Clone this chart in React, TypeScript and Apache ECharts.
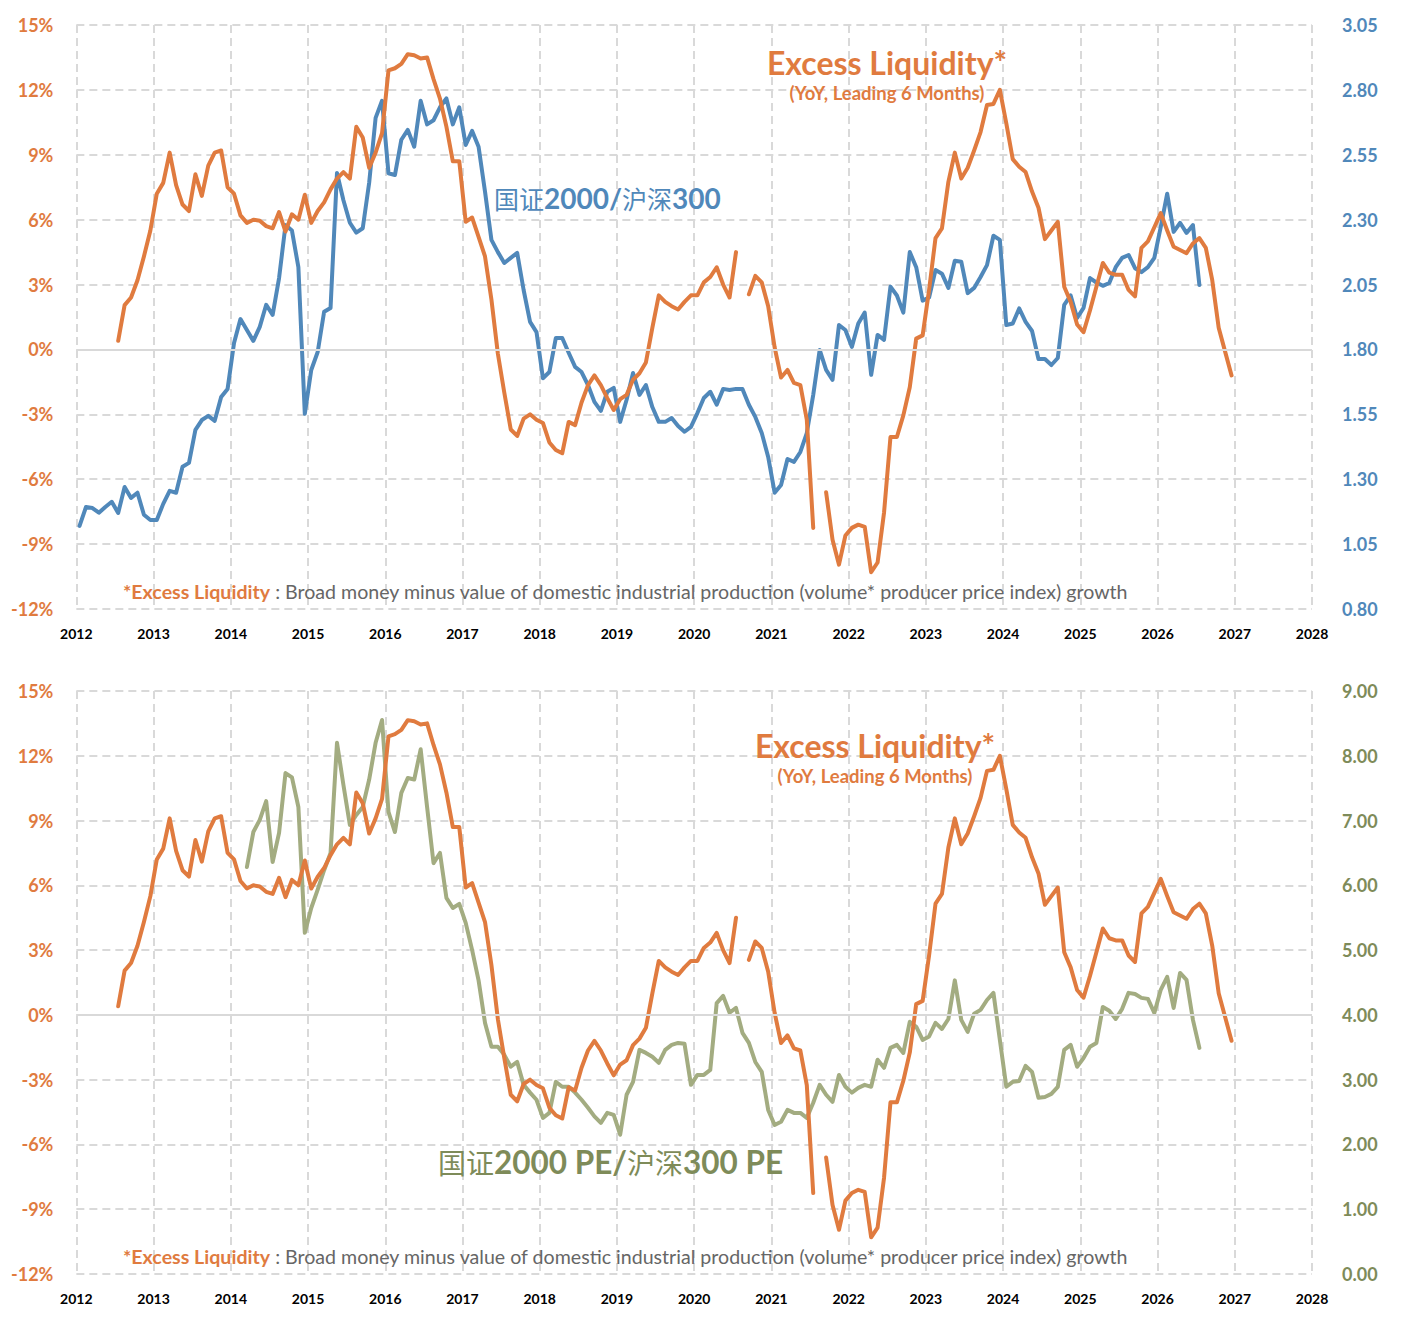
import React, { useEffect, useRef } from "react";
import * as echarts from "echarts";

// Monthly data, month index 0 = Jan 2012
const BASE_YEAR = 2012;
const yearTicks = ["2012","2013","2014","2015","2016","2017","2018","2019","2020","2021","2022","2023","2024","2025","2026","2027","2028"];

// Excess Liquidity (YoY %, leading 6 months), starts Jul 2012
const liquidityStart = 6;
const liquidity: (number | null)[] = [
  0.4, 2.05, 2.4, 3.2, 4.3, 5.5, 7.2, 7.7, 9.1, 7.6,
  6.7, 6.4, 8.1, 7.1, 8.5, 9.1, 9.2, 7.5, 7.2, 6.2,
  5.85, 6.0, 5.95, 5.7, 5.6, 6.35, 5.45, 6.25, 6.0, 7.15,
  5.85, 6.4, 6.8, 7.4, 7.9, 8.2, 7.9, 10.3, 9.8, 8.4,
  9.1, 10.0, 12.9, 13.0, 13.2, 13.65, 13.6, 13.45, 13.5, 12.5,
  11.6, 10.3, 8.7, 8.7, 5.9, 6.1, 5.2, 4.3, 2.3, -0.2,
  -2.0, -3.7, -4.0, -3.2, -3.0, -3.25, -3.4, -4.3, -4.65, -4.8,
  -3.35, -3.5, -2.45, -1.65, -1.2, -1.65, -2.25, -2.8, -2.3, -2.1,
  -1.4, -1.1, -0.6, 1.0, 2.5, 2.2, 2.0, 1.85, 2.2, 2.5,
  2.5, 3.1, 3.35, 3.8, 3.0, 2.4, 4.5, null, 2.55, 3.4,
  3.1, 2.0, 0.1, -1.3, -0.95, -1.55, -1.65, -3.25, -8.25, null,
  -6.6, -8.8, -9.95, -8.6, -8.25, -8.1, -8.2, -10.3, -9.85, -7.55,
  -4.05, -4.05, -3.05, -1.75, 0.5, 0.65, 2.75, 5.15, 5.6, 7.75,
  9.1, 7.9, 8.4, 9.2, 10.05, 11.3, 11.35, 12.0, 10.45, 8.8,
  8.45, 8.2, 7.3, 6.55, 5.1, 5.5, 5.9, 2.9, 2.2, 1.15,
  0.8, 1.8, 2.9, 4.0, 3.55, 3.45, 3.45, 2.75, 2.45, 4.7,
  5.0, 5.65, 6.3, 5.5, 4.75, 4.6, 4.45, 4.9, 5.15, 4.7,
  3.2, 1.0, -0.1, -1.2,
];

// 国证2000 / 沪深300 price ratio, starts Jan 2012
const ratioStart = 0;
const priceRatio: number[] = [
  1.12, 1.193, 1.189, 1.171, 1.193, 1.213, 1.17, 1.27, 1.228, 1.248,
  1.163, 1.143, 1.143, 1.205, 1.255, 1.248, 1.348, 1.363, 1.49, 1.528,
  1.544, 1.525, 1.617, 1.648, 1.825, 1.917, 1.875, 1.833, 1.887, 1.972,
  1.933, 2.075, 2.279, 2.258, 2.117, 1.552, 1.721, 1.79, 1.945, 1.96,
  2.48, 2.375, 2.288, 2.25, 2.267, 2.442, 2.692, 2.758, 2.479, 2.472,
  2.608, 2.646, 2.581, 2.758, 2.667, 2.683, 2.733, 2.767, 2.667, 2.733,
  2.588, 2.642, 2.581, 2.408, 2.222, 2.175, 2.133, 2.153, 2.172, 2.029,
  1.906, 1.867, 1.689, 1.713, 1.844, 1.844, 1.787, 1.733, 1.713, 1.663,
  1.598, 1.563, 1.637, 1.652, 1.521, 1.606, 1.709, 1.625, 1.663, 1.578,
  1.521, 1.521, 1.536, 1.505, 1.483, 1.502, 1.555, 1.613, 1.637, 1.587,
  1.648, 1.644, 1.648, 1.648, 1.587, 1.54, 1.478, 1.386, 1.248, 1.278,
  1.378, 1.367, 1.405, 1.478, 1.625, 1.798, 1.721, 1.683, 1.894, 1.875,
  1.81, 1.9, 1.942, 1.702, 1.856, 1.837, 2.042, 2.008, 1.942, 2.175,
  2.117, 1.988, 2.0, 2.106, 2.092, 2.037, 2.142, 2.138, 2.017, 2.037,
  2.079, 2.125, 2.238, 2.222, 1.894, 1.9, 1.958, 1.906, 1.871, 1.763,
  1.763, 1.74, 1.767, 1.972, 2.008, 1.921, 1.96, 2.075, 2.058, 2.045,
  2.056, 2.117, 2.153, 2.164, 2.113, 2.098, 2.117, 2.153, 2.272, 2.4,
  2.253, 2.288, 2.249, 2.279, 2.048,
];

// 国证2000 PE / 沪深300 PE, starts Mar 2014
const peStart = 26;
const peRatio: number[] = [
  6.283, 6.823, 7.01, 7.3, 6.36, 6.81, 7.733, 7.667, 7.21, 5.267,
  5.65, 5.933, 6.233, 6.5, 8.2, 7.55, 6.933, 7.087, 7.21, 7.633,
  8.2, 8.553, 7.133, 6.823, 7.427, 7.657, 7.633, 8.1, 7.21, 6.343,
  6.5, 5.807, 5.65, 5.713, 5.42, 5.0, 4.533, 3.877, 3.507, 3.507,
  3.383, 3.2, 3.273, 2.92, 2.8, 2.69, 2.41, 2.487, 2.967, 2.89,
  2.89, 2.8, 2.69, 2.567, 2.433, 2.333, 2.487, 2.457, 2.15, 2.767,
  2.967, 3.46, 3.413, 3.353, 3.26, 3.46, 3.537, 3.567, 3.553, 2.92,
  3.073, 3.073, 3.15, 4.183, 4.293, 4.033, 4.107, 3.723, 3.567, 3.273,
  3.12, 2.533, 2.3, 2.35, 2.533, 2.487, 2.487, 2.41, 2.643, 2.92,
  2.767, 2.657, 3.073, 2.89, 2.8, 2.873, 2.92, 2.89, 3.307, 3.183,
  3.49, 3.537, 3.413, 3.893, 3.817, 3.613, 3.667, 3.877, 3.783, 3.937,
  4.533, 3.923, 3.737, 4.017, 4.077, 4.23, 4.34, 3.613, 2.89, 2.967,
  2.98, 3.213, 3.12, 2.72, 2.733, 2.78, 2.89, 3.46, 3.537, 3.2,
  3.333, 3.507, 3.567, 4.123, 4.063, 3.937, 4.093, 4.34, 4.323, 4.263,
  4.247, 4.03, 4.387, 4.587, 4.107, 4.647, 4.54, 3.923, 3.49,
];

const leftTicks = ["-12%", "-9%", "-6%", "-3%", "0%", "3%", "6%", "9%", "12%", "15%"];

const ORANGE = "#E07B3F";
const BLUE = "#5088BA";
const GREEN_LINE = "#A3AC81";
const GREEN_TEXT = "#7E8B59";
const GRIDC = "#D9D9D9";
const FONT = "Lato, 'Noto Sans', sans-serif";

function toPairs(start: number, vals: (number | null)[]) {
  return vals.map((v, i) => [BASE_YEAR + (start + i + 0.5) / 12, v]);
}

export default function App() {
  const ref = useRef<HTMLDivElement>(null);
  useEffect(() => {
    if (!ref.current) return;
    const chart = echarts.init(ref.current, undefined, { renderer: "svg" });
    const dash = [8, 5];
    const xAxisBase = (gridIndex: number) => ({
      type: "value",
      gridIndex,
      min: 2012,
      max: 2028,
      interval: 1,
      axisLine: { show: false },
      axisTick: { show: false },
      axisLabel: {
        margin: 17,
        color: "#000",
        fontFamily: FONT,
        fontWeight: "bold",
        fontSize: 14,
        formatter: (v: number) => yearTicks[Math.round(v) - 2012] ?? "",
      },
      splitLine: { show: true, lineStyle: { color: GRIDC, width: 2, type: dash } },
    });
    const leftAxis = (gridIndex: number) => ({
      type: "value",
      gridIndex,
      position: "left",
      min: -12,
      max: 15,
      interval: 3,
      axisLine: { show: false },
      axisTick: { show: false },
      axisLabel: {
        margin: 23,
        color: ORANGE,
        fontFamily: FONT,
        fontWeight: "bold",
        fontSize: 18,
        formatter: (v: number) => leftTicks[Math.round((v + 12) / 3)] ?? "",
      },
      splitLine: { show: true, lineStyle: { color: GRIDC, width: 2, type: dash } },
    });
    const zeroLine = (xi: number, yi: number) => ({
      type: "line",
      xAxisIndex: xi,
      yAxisIndex: yi,
      data: [],
      z: 1,
      silent: true,
      markLine: {
        silent: true,
        symbol: "none",
        label: { show: false },
        lineStyle: { color: GRIDC, width: 2, type: "solid" },
        data: [{ yAxis: 0 }],
      },
    });
    const lineSeries = (xi: number, yi: number, data: any[], color: string) => ({
      type: "line",
      xAxisIndex: xi,
      yAxisIndex: yi,
      data,
      showSymbol: false,
      symbol: "none",
      connectNulls: false,
      z: 3,
      lineStyle: { color, width: 4, join: "round", cap: "round" },
    });
    const liq = toPairs(liquidityStart, liquidity);
    const footRich = {
      o: { fill: ORANGE, fontFamily: FONT, fontWeight: "bold", fontSize: 19.6 },
      g: { fill: "#666666", fontFamily: FONT, fontSize: 19.6 },
    };
    const footText =
      "{o|*Excess Liquidity}{g| : Broad money minus value of domestic industrial production (volume* producer price index) growth}";

    const option: any = {
      animation: false,
      backgroundColor: "#ffffff",
      grid: [
        { left: 68, top: 17, width: 1236, height: 584 },
        { left: 68, top: 683, width: 1236, height: 583 },
      ],
      xAxis: [xAxisBase(0), xAxisBase(1)],
      yAxis: [
        leftAxis(0),
        {
          type: "value",
          gridIndex: 0,
          position: "right",
          min: 0.8,
          max: 3.05,
          alignTicks: true,
          axisLine: { show: false },
          axisTick: { show: false },
          splitLine: { show: false },
          axisLabel: {
            margin: 30,
            color: BLUE,
            fontFamily: FONT,
            fontWeight: "bold",
            fontSize: 18,
            formatter: (v: number) => v.toFixed(2),
          },
        },
        leftAxis(1),
        {
          type: "value",
          gridIndex: 1,
          position: "right",
          min: 0,
          max: 9,
          interval: 1,
          axisLine: { show: false },
          axisTick: { show: false },
          splitLine: { show: false },
          axisLabel: {
            margin: 30,
            color: GREEN_TEXT,
            fontFamily: FONT,
            fontWeight: "bold",
            fontSize: 18,
            formatter: (v: number) => v.toFixed(2),
          },
        },
      ],
      series: [
        zeroLine(0, 0),
        zeroLine(1, 2),
        lineSeries(0, 1, toPairs(ratioStart, priceRatio), BLUE),
        lineSeries(0, 0, liq, ORANGE),
        lineSeries(1, 3, toPairs(peStart, peRatio), GREEN_LINE),
        lineSeries(1, 2, liq, ORANGE),
      ],
      graphic: [
        {
          type: "text", x: 879, y: 54, z: 10,
          style: { text: "Excess Liquidity*", fill: ORANGE, font: `bold 32px ${FONT}`, textAlign: "center", textVerticalAlign: "middle" },
        },
        {
          type: "text", x: 879, y: 85, z: 10,
          style: { text: "(YoY, Leading 6 Months)", fill: ORANGE, font: `bold 18.5px ${FONT}`, textAlign: "center", textVerticalAlign: "middle" },
        },
        {
          type: "text", x: 486, y: 190, z: 10,
          style: {
            text: "{c|国证}{n|2000/}{c|沪深}{n|300}",
            textVerticalAlign: "middle",
            rich: {
              c: { fill: BLUE, fontFamily: "'Noto Sans CJK SC'", fontSize: 25 },
              n: { fill: BLUE, fontFamily: FONT, fontWeight: "bold", fontSize: 28 },
            },
          },
        },
        {
          type: "text", x: 115, y: 583, z: 10,
          style: { text: footText, textVerticalAlign: "middle", rich: footRich },
        },
        {
          type: "text", x: 867, y: 737, z: 10,
          style: { text: "Excess Liquidity*", fill: ORANGE, font: `bold 32px ${FONT}`, textAlign: "center", textVerticalAlign: "middle" },
        },
        {
          type: "text", x: 867, y: 768, z: 10,
          style: { text: "(YoY, Leading 6 Months)", fill: ORANGE, font: `bold 18.5px ${FONT}`, textAlign: "center", textVerticalAlign: "middle" },
        },
        {
          type: "text", x: 430, y: 1154, z: 10,
          style: {
            text: "{c|国证}{n|2000 PE/}{c|沪深}{n|300 PE}",
            textVerticalAlign: "middle",
            rich: {
              c: { fill: GREEN_TEXT, fontFamily: "'Noto Sans CJK SC'", fontSize: 28 },
              n: { fill: GREEN_TEXT, fontFamily: FONT, fontWeight: "bold", fontSize: 31.5 },
            },
          },
        },
        {
          type: "text", x: 115, y: 1248, z: 10,
          style: { text: footText, textVerticalAlign: "middle", rich: footRich },
        },
      ],
    };
    chart.setOption(option);
    return () => chart.dispose();
  }, []);
  return <div ref={ref} style={{ width: 1391, height: 1315, background: "#fff" }} />;
}
